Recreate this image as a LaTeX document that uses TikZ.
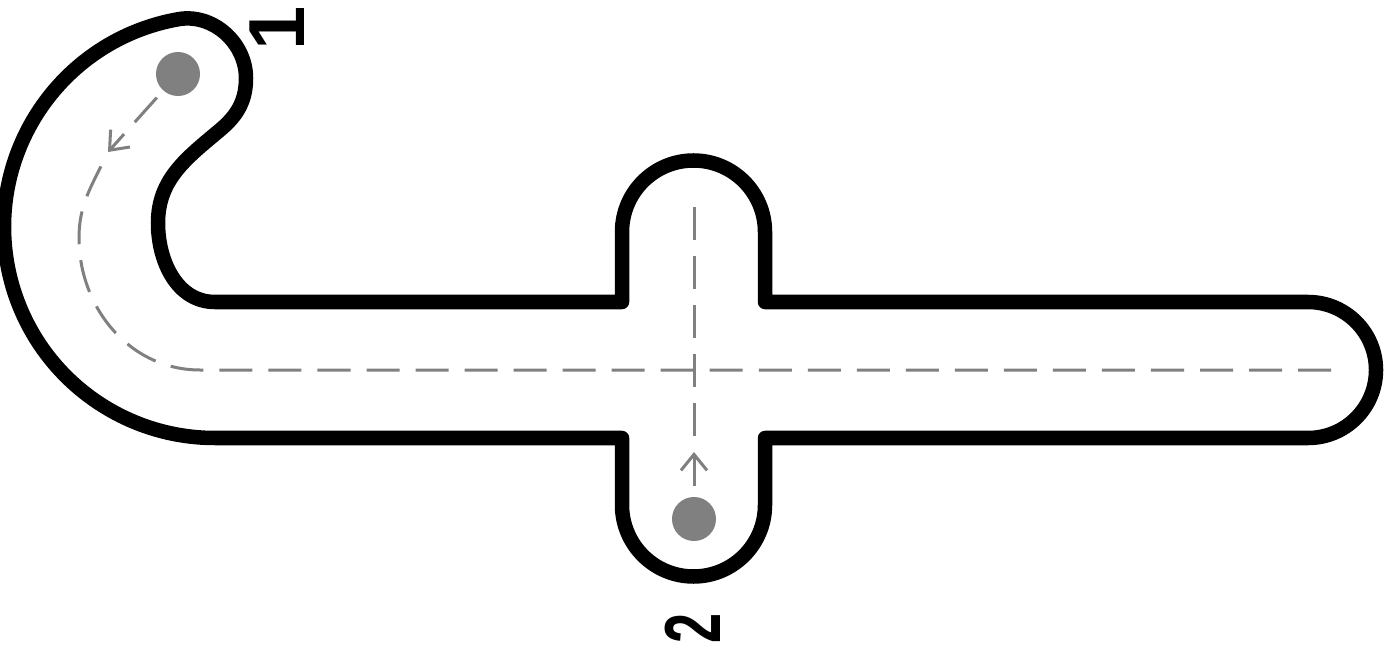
\documentclass[tikz,border=0pt]{standalone}
\usepackage{fontspec}
\setmainfont{Liberation Sans}
\usetikzlibrary{arrows.meta}
\definecolor{flowgray}{RGB}{128,128,128}

\begin{document}
\begin{tikzpicture}[x=0.01cm, y=0.01cm,
  wall/.style={draw=black, fill=white, line width=0.145cm, line join=round},
  flow/.style={draw=flowgray, line width=0.03cm, dash pattern=on 0.33cm off 0.16cm},
  flowtip/.style={-{Straight Barb[length=0.16cm, width=0.26cm]}},
  port/.style={circle, fill=flowgray, inner sep=0pt, minimum size=0.44cm},
  portname/.style={font=\fontsize{22.6}{24}\selectfont\bfseries, rotate=90, inner sep=0pt}
]
\useasboundingbox (0,0) rectangle (1397,648);

% channel outline
\draw[wall] (622,346) -- (215,346)
  to[out=180,in=-90] (158,425)
  to[out=90,in=-140] (220,518)
  to[out=40,in=-90] (246,570)
  to[out=90,in=10] (178.4,628.8)
  arc[start angle=100, end angle=270, radius=211]
  -- (622,210) -- (622,143)
  arc[start angle=180, end angle=360, radius=71.5]
  -- (765,210) -- (1308,210)
  arc[start angle=-90, end angle=90, radius=68]
  -- (765,346) -- (765,416)
  arc[start angle=0, end angle=180, radius=71.5]
  -- cycle;

% ports
\node[port] (in1) at (178,574) {};
\node[port] (in2) at (694,129) {};
\coordinate (tip1) at (108,496);
\coordinate (tip2) at (694,196);
\coordinate (top2) at (694,446);
\coordinate (outlet) at (1340,278);

% flow
\draw[flow, flowtip, shorten <=0.09cm] (in1) -- (tip1);
\draw[flow, dash phase=0.33cm] (tip1) to[out=-115,in=90] (79,410)
  to[out=-90,in=180] (200,278) -- (outlet);
\draw[flow, flowtip, shorten <=0.1cm] (in2) -- (tip2);
\draw[flow, dash phase=0.33cm] (tip2) -- (top2);

\node[portname] (lab1) at (277,620) {1};
\node[portname] (lab2) at (693,20) {\scalebox{0.68}[1]{2}};
\end{tikzpicture}
\end{document}
